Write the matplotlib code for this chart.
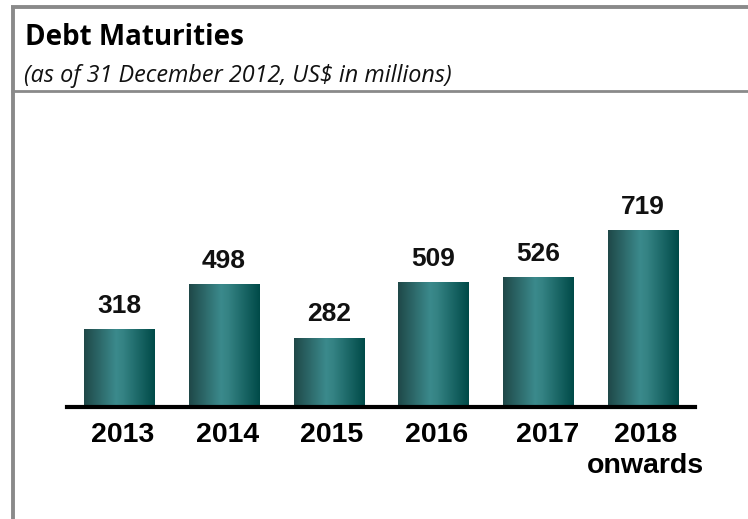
import numpy as np
import matplotlib
matplotlib.use("Agg")
import matplotlib.pyplot as plt
from matplotlib.colors import LinearSegmentedColormap
from matplotlib.lines import Line2D
from matplotlib.transforms import ScaledTranslation

categories = ["2013", "2014", "2015", "2016", "2017", "2018\nonwards"]
values = [318, 498, 282, 509, 526, 719]

title = "Debt Maturities"
subtitle = "(as of 31 December 2012, US$ in millions)"

W, H = 748, 519
fig = plt.figure(figsize=(W / 100, H / 100), dpi=100)
fig.patch.set_facecolor("white")

# frame lines of the panel
gray = "#8a8a8a"
fig.add_artist(Line2D([11 / W, 1], [1 - 7 / H, 1 - 7 / H], color=gray, lw=2.8,
                      transform=fig.transFigure, solid_capstyle="butt"))
fig.add_artist(Line2D([11 / W, 1], [1 - 91 / H, 1 - 91 / H], color=gray, lw=2.0,
                      transform=fig.transFigure, solid_capstyle="butt"))
fig.add_artist(Line2D([12.5 / W, 12.5 / W], [0, 1 - 5.5 / H], color=gray, lw=2.8,
                      transform=fig.transFigure, solid_capstyle="butt"))

fig.text(25 / W, 1 - 45 / H, title, fontsize=20, fontweight="bold",
         family="Open Sans", color="black", va="baseline")
fig.text(24 / W, 1 - 82 / H, subtitle, fontsize=16.8, style="italic",
         family="Open Sans", color="#111111", va="baseline")

# plot area: baseline at y=407 px, x from 67 to 695 px
left, right = 67 / W, 695 / W
bottom, top = 1 - 407 / H, 1 - 150 / H
ax = fig.add_axes([left, bottom, right - left, top - bottom])
ax.set_xlim(-0.5, 5.5)
ymax = 257 / 0.2462
ax.set_ylim(0, ymax)
ax.set_facecolor("none")

cmap = LinearSegmentedColormap.from_list(
    "teal", [(0.0, "#1f4848"), (0.45, "#3b8a8c"), (0.55, "#358384"), (1.0, "#004a48")])
grad = np.linspace(0, 1, 256).reshape(1, -1)

x = np.arange(len(categories))
width = 0.67
bars = ax.bar(x, values, width=width, color="none", edgecolor="none")
for b in bars:
    x0, y0 = b.get_x(), b.get_y()
    im = ax.imshow(grad, cmap=cmap, aspect="auto",
                   extent=[x0, x0 + b.get_width(), y0, y0 + b.get_height()],
                   zorder=2, interpolation="bilinear")
    im.set_clip_path(b)

for xi, v in zip(x, values):
    ax.annotate(f"{v}", (xi, v), xytext=(0, 8), textcoords="offset points",
                ha="center", va="bottom", fontsize=19, fontweight="bold",
                family="Liberation Sans", color="#111111")

ax.set_xticks(x)
ax.set_xticklabels(categories, fontsize=20.5, fontweight="bold",
                   family="Liberation Sans", linespacing=1.22)
ax.tick_params(axis="x", length=0, pad=11)
# small horizontal nudges of the category labels (in pixels)
nudges = [3, 3.5, 3, 3, 9.5, 3]
for lbl, dx in zip(ax.get_xticklabels(), nudges):
    lbl.set_transform(lbl.get_transform() + ScaledTranslation(dx / 100, 0, fig.dpi_scale_trans))
ax.set_yticks([])
for s in ["top", "left", "right"]:
    ax.spines[s].set_visible(False)
ax.spines["bottom"].set_linewidth(3)
ax.spines["bottom"].set_color("black")
ax.spines["bottom"].set_zorder(3)

fig.savefig("out.png", dpi=100)
